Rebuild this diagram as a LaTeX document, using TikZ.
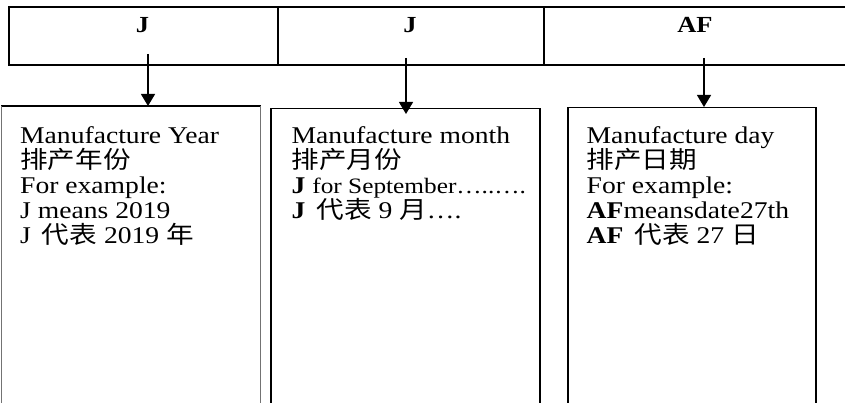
\documentclass[tikz,border=0pt]{standalone}
\usepackage{fontspec}
\setmainfont{Liberation Serif}[FakeStretch=1.15]
\newfontfamily\zhfont{Noto Sans CJK SC}[FakeStretch=1.15]
\newcommand{\zh}[1]{{\zhfont #1}}
\usetikzlibrary{arrows.meta}
\setlength{\lineskiplimit}{-100pt}
\begin{document}
\begin{tikzpicture}[x=1pt,y=-1pt,
  cell/.style={draw, line width=1.6pt, minimum height=58pt, inner sep=0pt, anchor=north west},
  lab/.style={anchor=base, inner sep=0pt, font=\fontsize{23}{25}\selectfont\bfseries},
  pbox/.style={draw, line width=1.5pt, minimum height=330pt, inner sep=0pt, anchor=north west},
  txt/.style={anchor=north west, inner sep=0pt, align=left, font=\fontsize{24}{25}\selectfont},
  arr/.style={line width=1.2pt, -{Triangle[length=12pt,width=14pt]}}]
\useasboundingbox (0,0) rectangle (845,403);
\clip (0,0) rectangle (845,403);
% top bar
\node[cell, minimum width=269pt] (c1) at (8,6) {};
\node[cell, minimum width=266pt] (c2) at (277,6) {};
\node[cell, minimum width=310pt] (c3) at (543,6) {};
\node[lab] (l1) at (142.5,33) {J};
\node[lab] (l2) at (410,33) {J};
\node[lab] (l3) at (695,33) {AF};
% boxes
\node[pbox, draw=none, minimum width=258pt] (b1) at (1,106) {};
\draw[line width=1.5pt] (b1.north west) -- (b1.north east);
\draw[line width=1pt, black!55] (b1.north west) -- (b1.south west) (b1.north east) -- (b1.south east);
\node[pbox, minimum width=269pt] (b2) at (270,108) {};
\node[pbox, minimum width=248pt] (b3) at (567,107) {};
% arrows
\coordinate (a1) at (148,54);
\coordinate (a2) at (406,58);
\coordinate (a3) at (704,58);
\draw[arr] (a1) -- (a1 |- b1.north);
\draw[arr] (a2) -- ([yshift=-6pt]a2 |- b2.north);
\draw[arr] (a3) -- (a3 |- b3.north);
% texts
\node[txt] (t1) at (20,125.5) {\strut Manufacture Year\\
  \strut\zh{排产年份}\\
  \strut For example:\\
  \strut J means 2019\\
  \strut J\hspace{11pt}\zh{代表} 2019 \zh{年}};
\node[txt] (t2) at (291.5,126) {\strut Manufacture month\\
  \strut\zh{排产月份}\\
  \strut\textbf{J} {\fontsize{22}{25}\selectfont for September…..….}\\
  \strut\textbf{J}\hspace{11pt}\zh{代表} 9 \zh{月}….};
\node[txt] (t3) at (586.5,125.5) {\strut Manufacture day\\
  \strut\zh{排产日期}\\
  \strut For example:\\
  \strut\textbf{AF}meansdate27th\\
  \strut\textbf{AF}\hspace{11pt}\zh{代表} 27 \zh{日}};
\end{tikzpicture}
\end{document}
